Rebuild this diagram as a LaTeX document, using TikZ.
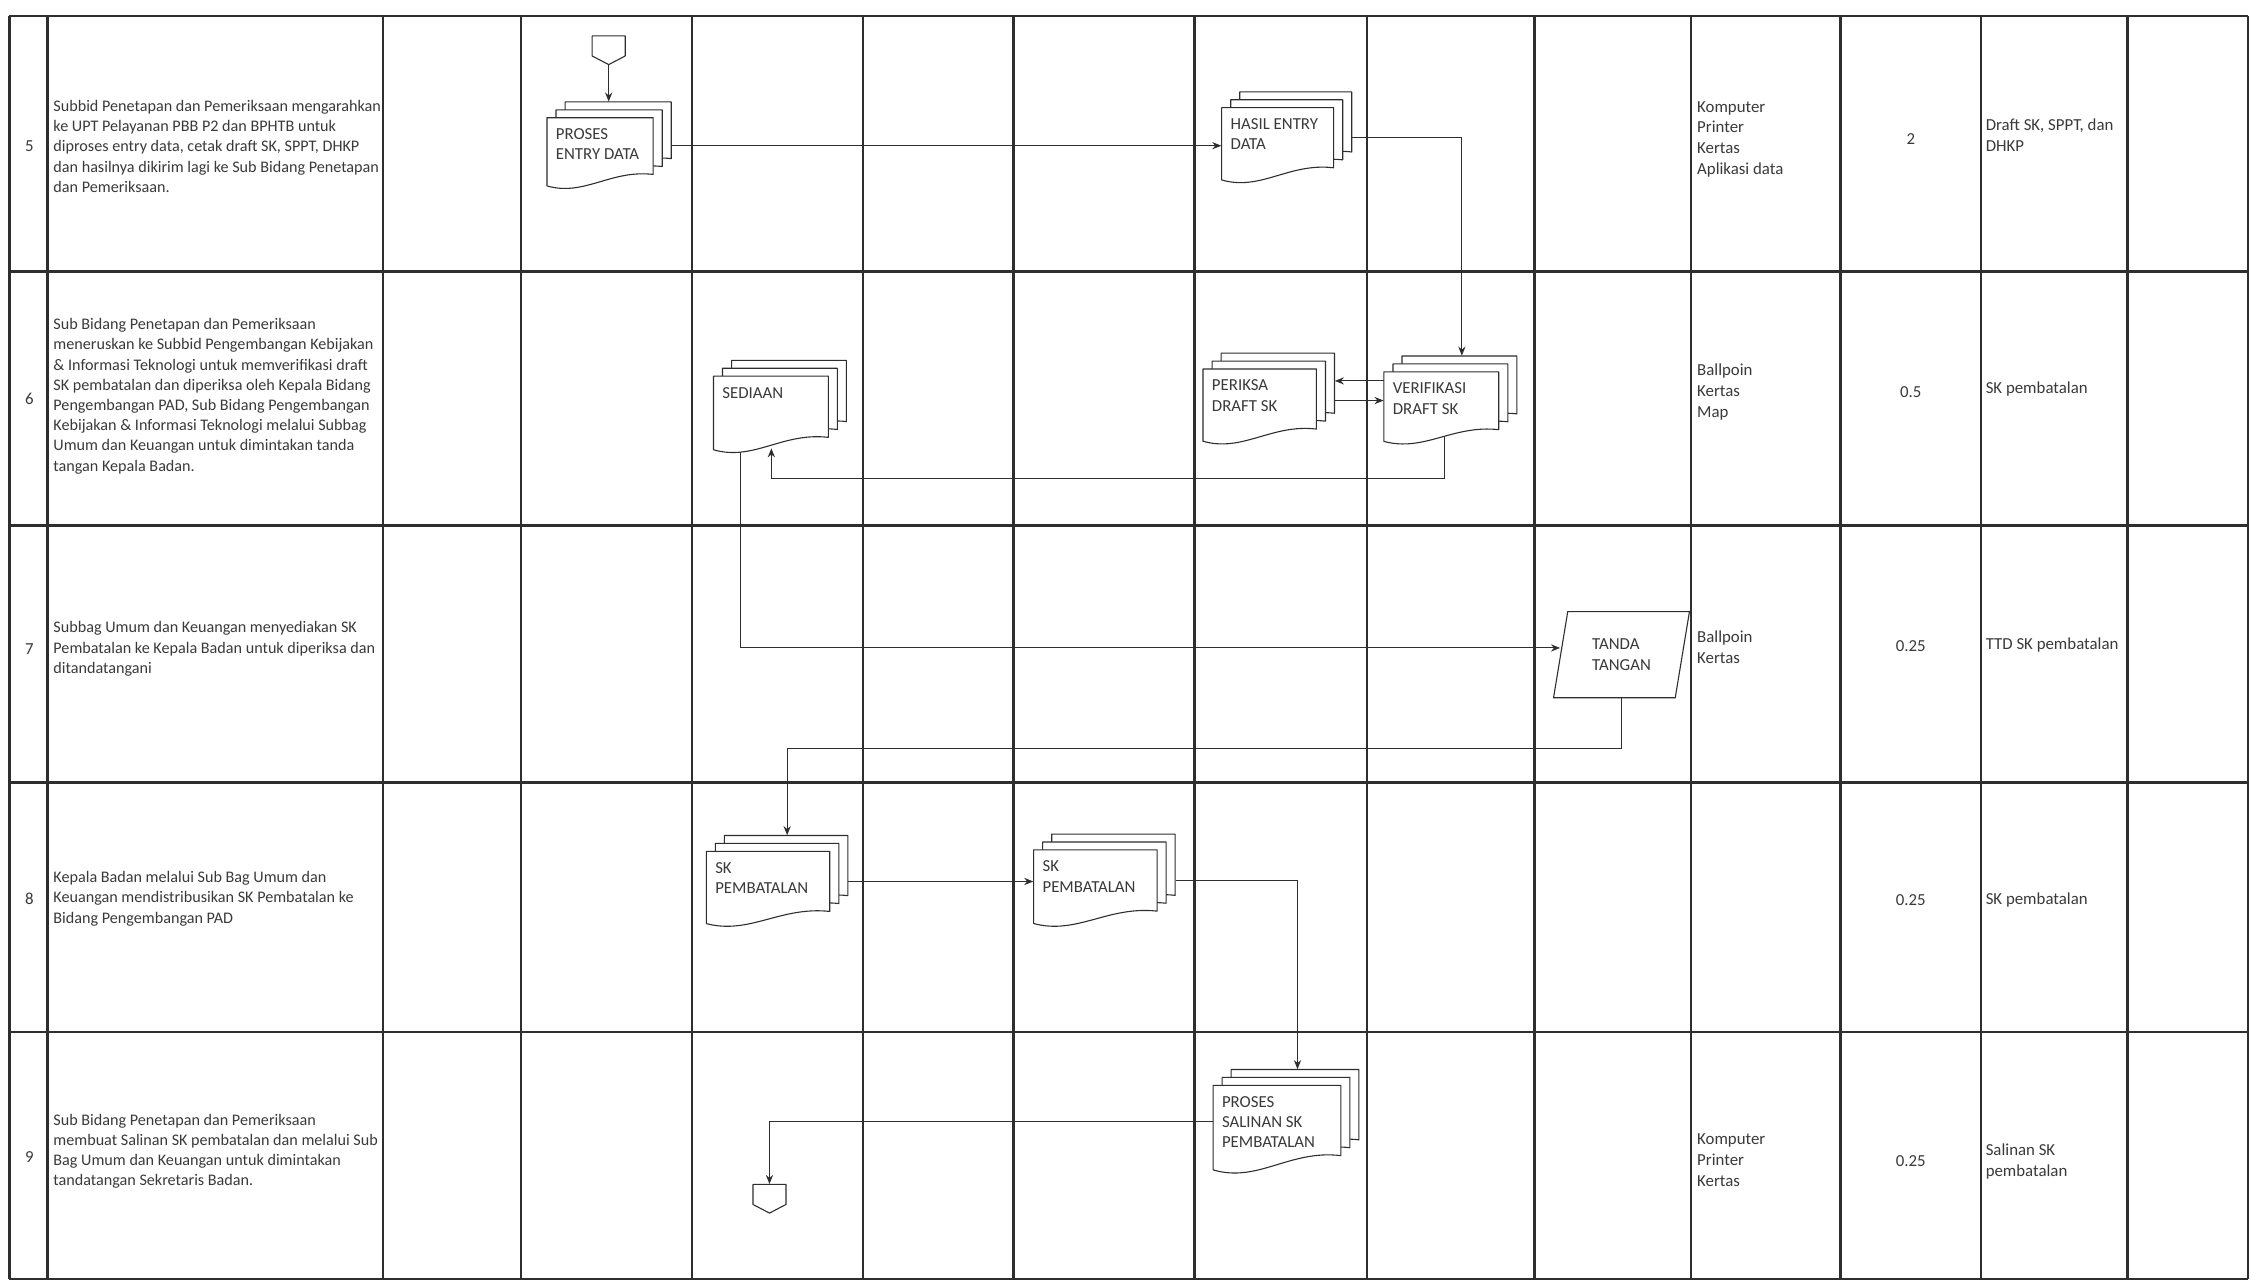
\documentclass[tikz,border=0pt]{standalone}
\usepackage{fontspec}
\setmainfont{Carlito}
\usetikzlibrary{arrows.meta,shapes.geometric}

\definecolor{ink}{HTML}{2E2E2E}
\definecolor{txt}{HTML}{3A3A3A}

\tikzset{
  gridline/.style={draw=ink, line width=1.4pt, line cap=square},
  sheet/.style={draw=ink, line width=0.65pt, fill=white, line join=round},
  link/.style={draw=ink, line width=0.65pt},
  arr/.style={link, -{Stealth[length=1.9mm, width=1.5mm]}},
  txtstyle/.style={font=\fontsize{10}{12}\selectfont, text=txt, inner sep=0pt},
  desc/.style={txtstyle, align=left, anchor=west, font=\fontsize{9.6}{12}\selectfont},
  lbl/.style={txtstyle, align=left, anchor=north west},
  num/.style={txtstyle, anchor=center},
  res/.style={txtstyle, align=left, anchor=west, font=\fontsize{10}{12.4}\selectfont},
  parbox/.style={shape=trapezium, trapezium left angle=76, trapezium right angle=104,
    trapezium stretches=true, draw=ink, line width=0.65pt, fill=white,
    txtstyle, align=left},
}

% stack of three documents: name, front-left x, front-top y, width, height, label
\newcommand{\stackdoc}[6]{%
  \foreach \k in {2,1,0}{%
    \pgfmathsetmacro{\ox}{#2+6.3*\k}%
    \pgfmathsetmacro{\oy}{#3-5.5*\k}%
    \draw[sheet] (\ox,\oy) -- ({\ox+#4},\oy) -- ({\ox+#4},{\oy+0.79*#5})
      .. controls ({\ox+0.6*#4},{\oy+0.72*#5}) and ({\ox+0.35*#4},{\oy+1.1*#5}) .. (\ox,{\oy+0.95*#5}) -- cycle;
  }%
  \node[inner sep=0pt, minimum width={(#4+12.6)*0.3mm}, minimum height={(#5+11)*0.3mm}]
    (#1) at ({#2+(#4+12.6)/2},{#3-11+(#5+11)/2}) {};%
  \node[lbl] (#1-t) at ({#2+6},{#3+7.5}) {#6};%
}

% off-page connector: name, centre x, top y
\newcommand{\offpage}[3]{%
  \draw[sheet] ({#2-11.5},#3) -- ({#2+11.5},#3) -- ({#2+11.5},{#3+14}) -- (#2,{#3+20})
    -- ({#2-11.5},{#3+14}) -- cycle;
  \node[inner sep=0pt, minimum width=6.9mm, minimum height=6mm] (#1) at (#2,{#3+10}) {};%
}

\begin{document}
\begin{tikzpicture}[x=0.3mm, y=-0.3mm]
\path[use as bounding box, fill=white] (0,0) rectangle (1568,894);

% table grid
\foreach \yy in {11,189,366,545,719,891}
  \draw[gridline] (6.5,\yy) -- (1566,\yy);
\foreach \xx in {6.5,33,267,363,482,601,706,832,952,1069,1178,1282,1380,1482,1566}
  \draw[gridline] (\xx,11) -- (\xx,891);

% step numbers and descriptions
\node[num] (n5) at (20.5,102) {5};
\node[desc] (d5) at (37,102) {Subbid Penetapan dan Pemeriksaan mengarahkan\\ke UPT Pelayanan PBB P2 dan BPHTB untuk\\diproses entry data, cetak draft SK, SPPT, DHKP\\dan hasilnya dikirim lagi ke Sub Bidang Penetapan\\dan Pemeriksaan.};
\node[num] (n6) at (20.5,278) {6};
\node[desc] (d6) at (37,276) {Sub Bidang Penetapan dan Pemeriksaan\\meneruskan ke Subbid Pengembangan Kebijakan\\\& Informasi Teknologi untuk memverifikasi draft\\SK pembatalan dan diperiksa oleh Kepala Bidang\\Pengembangan PAD, Sub Bidang Pengembangan\\Kebijakan \& Informasi Teknologi melalui Subbag\\Umum dan Keuangan untuk dimintakan tanda\\tangan Kepala Badan.};
\node[num] (n7) at (20.5,452) {7};
\node[desc] (d7) at (37,452) {Subbag Umum dan Keuangan menyediakan SK\\Pembatalan ke Kepala Badan untuk diperiksa dan\\ditandatangani};
\node[num] (n8) at (20.5,626) {8};
\node[desc] (d8) at (37,626) {Kepala Badan melalui Sub Bag Umum dan\\Keuangan mendistribusikan SK Pembatalan ke\\Bidang Pengembangan PAD};
\node[num] (n9) at (20.5,806) {9};
\node[desc] (d9) at (37,802) {Sub Bidang Penetapan dan Pemeriksaan\\membuat Salinan SK pembatalan dan melalui Sub\\Bag Umum dan Keuangan untuk dimintakan\\tandatangan Sekretaris Badan.};

% flow symbols
\offpage{op1}{424}{25}
\stackdoc{pe}{381}{82}{74}{50}{PROSES\\ENTRY DATA}
\stackdoc{he}{851}{75}{78}{53}{HASIL ENTRY\\DATA}
\stackdoc{sd}{497}{262}{80}{54}{SEDIAAN}
\stackdoc{pd}{838}{257}{79}{53}{PERIKSA\\DRAFT SK}
\stackdoc{vf}{964}{259}{80}{51}{VERIFIKASI\\DRAFT SK}
\node[parbox, minimum width=95*0.3mm, minimum height=60*0.3mm] (tt) at (1129.5,456) {TANDA\\TANGAN};
\stackdoc{ska}{492}{593}{86}{53}{SK\\PEMBATALAN}
\stackdoc{skb}{720}{592}{86}{54}{SK\\PEMBATALAN}
\stackdoc{ps}{845}{756}{89}{62}{PROSES\\SALINAN SK\\PEMBATALAN}
\offpage{op2}{536}{825}

% connectors
\draw[arr] (op1.south) -- (op1.south |- pe.north);
\draw[arr] (pe.east) -- (pe.east -| he.west);
\draw[arr] (he.east) -| ([xshift=2.4mm]vf.north);
\coordinate (vfa) at ([yshift=4.1mm]vf.west);
\draw[arr] (vfa) -- (vfa -| pd.east);
\draw[arr] (pd.east |- vf.west) -- (vf.west);
\draw[arr] ([xshift=-1.2mm,yshift=1.7mm]vf.south) -- ++(0,29) -| ([xshift=-1.8mm,yshift=1.2mm]sd.south);
\draw[arr] ([xshift=-8.2mm,yshift=0.5mm]sd.south) |- ([yshift=1.4mm]tt.left side);
\draw[arr] (tt.south) -- ++(0,35) -| ([xshift=2.1mm]ska.north);
\draw[arr] (ska.east) -- (ska.east -| skb.west);
\draw[arr] (skb.east) -| ([xshift=2.4mm]ps.north);
\draw[arr] (ps.west) -| (op2.north);

% resources, time and output columns
\node[res] (r5) at (1182,97) {Komputer\\Printer\\Kertas\\Aplikasi data};
\node[num] (t5) at (1331,97) {2};
\node[res] (o5) at (1383,94) {Draft SK, SPPT, dan\\DHKP};
\node[res] (r6) at (1182,273) {Ballpoin\\Kertas\\Map};
\node[num] (t6) at (1331,273) {0.5};
\node[res] (o6) at (1383,271) {SK pembatalan};
\node[res] (r7) at (1182,451) {Ballpoin\\Kertas};
\node[num] (t7) at (1331,450) {0.25};
\node[res] (o7) at (1383,449) {TTD SK pembatalan};
\node[num] (t8) at (1331,627) {0.25};
\node[res] (o8) at (1383,627) {SK pembatalan};
\node[res] (r9) at (1182,808) {Komputer\\Printer\\Kertas};
\node[num] (t9) at (1331,809) {0.25};
\node[res] (o9) at (1383,809) {Salinan SK\\pembatalan};
\end{tikzpicture}
\end{document}
